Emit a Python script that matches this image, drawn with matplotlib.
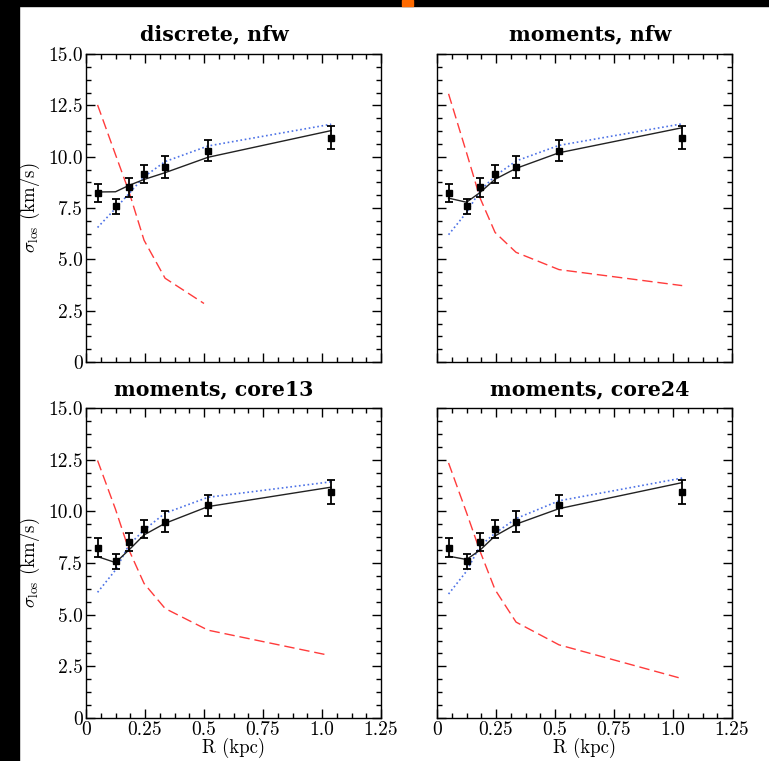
import numpy as np
import matplotlib
matplotlib.use("Agg")
import matplotlib.pyplot as plt
from matplotlib.ticker import MultipleLocator, FixedLocator, FixedFormatter
from matplotlib.patches import Rectangle

plt.rcParams['mathtext.fontset'] = 'cm'
plt.rcParams['font.family'] = 'cmr10'
plt.rcParams['axes.formatter.use_mathtext'] = True

# binned line-of-sight dispersion profile
R = [0.049, 0.125, 0.182, 0.246, 0.335, 0.517, 1.039]
sigma_obs = [8.25, 7.58, 8.5, 9.15, 9.5, 10.3, 10.93]
sigma_err = [0.44, 0.37, 0.44, 0.45, 0.52, 0.51, 0.57]

titles = ["discrete, nfw", "moments, nfw", "moments, core13", "moments, core24"]

# best-fit total dispersion (solid black)
fit_tl = [8.28, 8.29, 8.6, 8.89, 9.22, 9.97, 11.27]
fit_tr = [7.98, 7.78, 8.25, 8.9, 9.43, 10.19, 11.41]
fit_bl = [7.81, 7.52, 8.13, 8.86, 9.42, 10.23, 11.17]
fit_br = [7.83, 7.67, 8.12, 8.81, 9.38, 10.13, 11.39]

# radial component (blue dotted)
rad_tl = [6.55, 7.48, 8.2, 9.02, 9.76, 10.52, 11.58]
rad_tr = [6.2, 7.28, 8.33, 9.06, 9.79, 10.55, 11.6]
rad_bl = [6.08, 7.16, 8.37, 9.1, 9.91, 10.68, 11.43]
rad_br = [6.0, 7.1, 8.32, 8.94, 9.65, 10.51, 11.61]

# tangential component (red dashed)
R_tan_tl = [0.049, 0.125, 0.182, 0.246, 0.335, 0.50]
tan_tl = [12.52, 10.1, 8.3, 5.93, 4.08, 2.85]
R_tan_tr = [0.049, 0.125, 0.182, 0.246, 0.335, 0.517, 1.039]
tan_tr = [13.06, 10.2, 8.0, 6.31, 5.34, 4.5, 3.72]
R_tan_bl = [0.049, 0.125, 0.182, 0.246, 0.335, 0.517, 1.027]
tan_bl = [12.46, 10.1, 8.13, 6.51, 5.30, 4.25, 3.04]
R_tan_br = [0.049, 0.125, 0.182, 0.246, 0.335, 0.517, 1.024]
tan_br = [12.34, 9.94, 8.08, 6.21, 4.64, 3.54, 1.95]

fits = [fit_tl, fit_tr, fit_bl, fit_br]
rads = [rad_tl, rad_tr, rad_bl, rad_br]
tans = [(R_tan_tl, tan_tl), (R_tan_tr, tan_tr), (R_tan_bl, tan_bl), (R_tan_br, tan_br)]

xticks = [0, 0.25, 0.5, 0.75, 1.0, 1.25]
xticklabels = ["0", "0.25", "0.5", "0.75", "1.0", "1.25"]
yticks = [0, 2.5, 5.0, 7.5, 10.0, 12.5, 15.0]
yticklabels = ["0", "2.5", "5.0", "7.5", "10.0", "12.5", "15.0"]

W, H = 769, 761
fig = plt.figure(figsize=(W / 100, H / 100), dpi=100)

# black frame strip on the left / top, with the small orange mark
fig.patches.append(Rectangle((0, 0), 19 / W, 1, transform=fig.transFigure, color='black', zorder=-1))
fig.patches.append(Rectangle((0, 1 - 6 / H), 1, 6 / H, transform=fig.transFigure, color='black', zorder=-1))
fig.patches.append(Rectangle((402 / W, 1 - 6 / H), 11 / W, 6 / H, transform=fig.transFigure, color='#FF6A00', zorder=0))

# pixel boxes: left, top, right, bottom
boxes = [(86, 54, 381, 362), (437, 54, 732, 362), (86, 408, 381, 718), (437, 408, 732, 718)]
title_x = [214, 590, 214, 590]
title_base = [40, 40, 395, 395]

for i, (l, t, r, b) in enumerate(boxes):
    ax = fig.add_axes([l / W, 1 - b / H, (r - l) / W, (b - t) / H])
    ax.set_xlim(0, 1.25)
    ax.set_ylim(0, 15)

    ax.plot(tans[i][0], tans[i][1], color='#FF3B3B', lw=1.0, dashes=(7.5, 3.5))
    ax.plot(R, rads[i], color='#4D72E6', lw=1.2, dashes=(1.0, 1.6))
    ax.plot(R, fits[i], color='#222222', lw=1.0)
    ax.errorbar(R, sigma_obs, yerr=sigma_err, fmt='s', color='black', ms=4.3,
                elinewidth=1.3, capsize=2.6, capthick=1.3)

    ax.xaxis.set_major_locator(FixedLocator(xticks))
    ax.xaxis.set_minor_locator(MultipleLocator(0.0625))
    ax.yaxis.set_major_locator(FixedLocator(yticks))
    ax.yaxis.set_minor_locator(MultipleLocator(0.625))
    ax.tick_params(which='both', direction='in', top=True, right=True, width=1.0, pad=2.5,
                   labelsize=14)
    ax.tick_params(which='major', length=6.5)
    ax.tick_params(which='minor', length=3.6)
    for s in ax.spines.values():
        s.set_linewidth(1.0)

    if i >= 2:
        ax.xaxis.set_major_formatter(FixedFormatter(xticklabels))
        ax.set_xlabel("R (kpc)", fontsize=13.5)
        ax.xaxis.set_label_coords(0.5, -0.064)
    else:
        ax.set_xticklabels([])
    if i % 2 == 0:
        ax.yaxis.set_major_formatter(FixedFormatter(yticklabels))
        ax.set_ylabel(r"$\sigma_{\rm los}$ (km/s)", fontsize=13.5)
        ax.yaxis.set_label_coords(-0.15, 0.5)
    else:
        ax.set_yticklabels([])

    fig.text(title_x[i] / W, 1 - title_base[i] / H, titles[i], family='DejaVu Serif',
             fontweight='bold', fontsize=14.8, ha='center', va='baseline')

fig.savefig("out.png", dpi=100)
